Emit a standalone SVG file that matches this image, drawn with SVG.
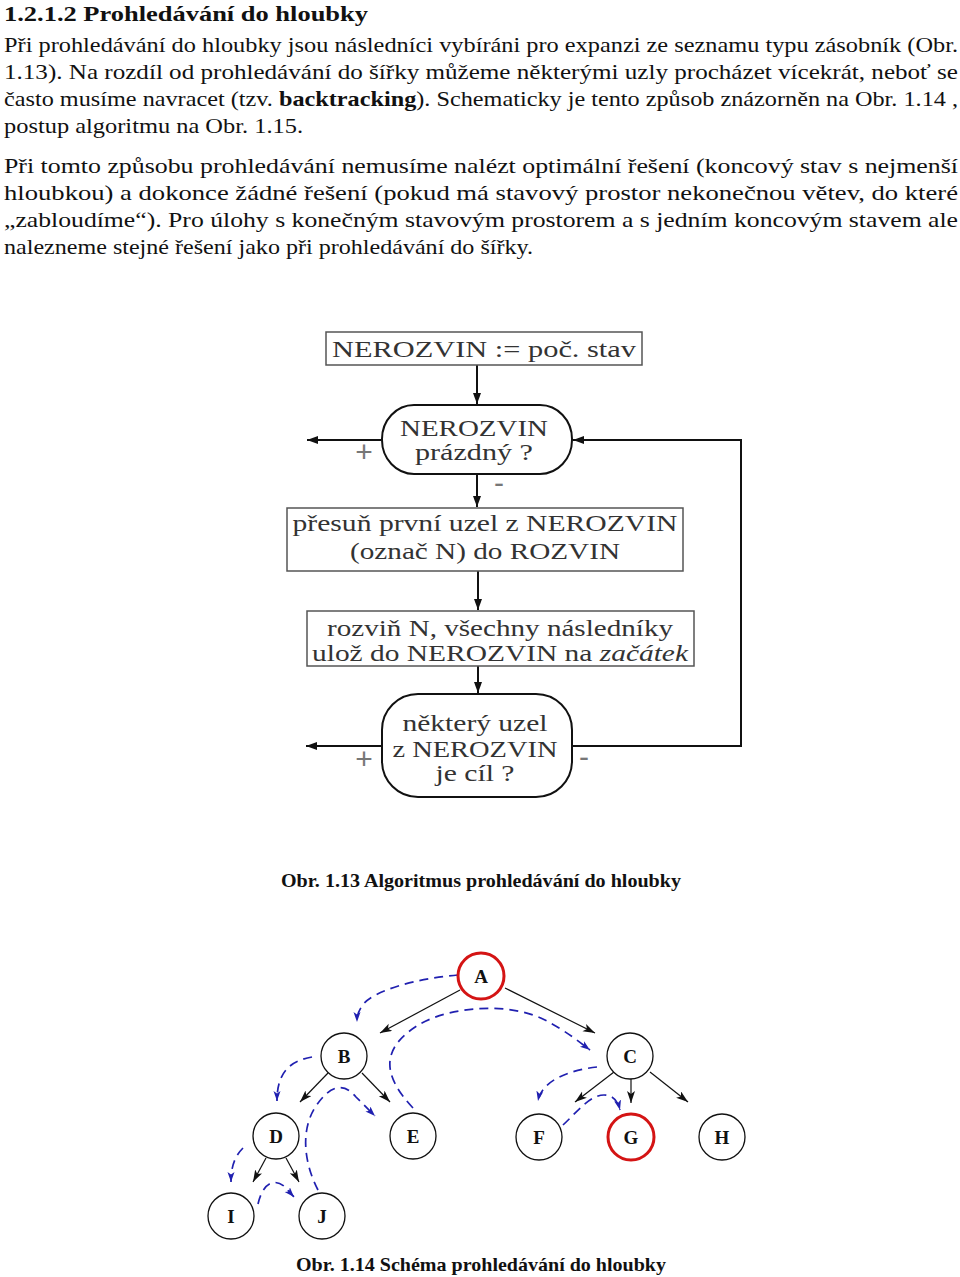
<svg xmlns="http://www.w3.org/2000/svg" width="960" height="1277" viewBox="0 0 960 1277">
<defs>
<style>
.body{font-family:"Times New Roman","Liberation Serif",Tinos,serif;font-size:22px;fill:#111}
.hd{font-family:"Times New Roman","Liberation Serif",Tinos,serif;font-size:22px;font-weight:bold;fill:#111}
.cap{font-family:"Times New Roman","Liberation Serif",Tinos,serif;font-size:19px;font-weight:bold;fill:#111}
.fc{font-family:"Times New Roman","Liberation Serif",Tinos,serif;font-size:23px;fill:#333;text-anchor:middle}
.box{fill:#fff;stroke:#555;stroke-width:1.5}
.stad{fill:#fff;stroke:#111;stroke-width:2}
.fl{fill:none;stroke:#111;stroke-width:2}
.sign{font-family:"Liberation Sans",Arial,sans-serif;font-size:30px;fill:#777;text-anchor:middle}
.node{fill:#fff;stroke:#111;stroke-width:1.3}
.goal{fill:#fff;stroke:#d41414;stroke-width:3}
.lab{font-family:"Times New Roman","Liberation Serif",Tinos,serif;font-size:19px;font-weight:bold;fill:#111;text-anchor:middle}
.te{fill:none;stroke:#111;stroke-width:1.2}
.bl{fill:none;stroke:#2020b0;stroke-width:1.7;stroke-dasharray:9 6}
</style>
<marker id="fa" markerUnits="userSpaceOnUse" markerWidth="12" markerHeight="10" refX="11" refY="4" orient="auto">
<path d="M0,0 L11,4 L0,8 z" fill="#111"/>
</marker>
<marker id="ta" markerUnits="userSpaceOnUse" markerWidth="14" markerHeight="10" refX="12" refY="4" orient="auto">
<path d="M0,0 L12,4 L0,8 L3,4 z" fill="#111"/>
</marker>
<marker id="ba" markerUnits="userSpaceOnUse" markerWidth="12" markerHeight="10" refX="10" refY="3.5" orient="auto">
<path d="M0,0 L10,3.5 L0,7 L2.5,3.5 z" fill="#2020b0"/>
</marker>
</defs>
<rect width="960" height="1277" fill="#fff"/>

<g id="text">
<text class="hd" x="4" y="21" textLength="364" lengthAdjust="spacingAndGlyphs">1.2.1.2  Prohledávání do hloubky</text>
<text class="body" x="4" y="52" textLength="954" lengthAdjust="spacingAndGlyphs">Při prohledávání do hloubky jsou následníci vybíráni pro expanzi ze seznamu typu zásobník (Obr.</text>
<text class="body" x="4" y="79" textLength="954" lengthAdjust="spacingAndGlyphs">1.13). Na rozdíl od prohledávání do šířky můžeme některými uzly procházet vícekrát, neboť se</text>
<text class="body" x="4" y="106" textLength="954" lengthAdjust="spacingAndGlyphs">často musíme navracet (tzv. <tspan font-weight="bold">backtracking</tspan>). Schematicky je tento způsob znázorněn na  Obr. 1.14 ,</text>
<text class="body" x="4" y="133" textLength="299" lengthAdjust="spacingAndGlyphs">postup algoritmu na Obr.  1.15.</text>
<text class="body" x="4" y="173" textLength="954" lengthAdjust="spacingAndGlyphs">Při tomto způsobu prohledávání nemusíme nalézt optimální řešení (koncový stav s nejmenší</text>
<text class="body" x="4" y="200" textLength="954" lengthAdjust="spacingAndGlyphs">hloubkou) a dokonce žádné řešení (pokud má stavový prostor nekonečnou větev, do které</text>
<text class="body" x="4" y="227" textLength="954" lengthAdjust="spacingAndGlyphs">„zabloudíme“).  Pro úlohy s konečným stavovým prostorem a s jedním koncovým stavem ale</text>
<text class="body" x="4" y="254" textLength="529" lengthAdjust="spacingAndGlyphs">nalezneme stejné řešení jako při prohledávání do šířky.</text>
<text class="cap" x="281" y="887" textLength="400" lengthAdjust="spacingAndGlyphs">Obr. 1.13  Algoritmus prohledávání do hloubky</text>
<text class="cap" x="296" y="1271" textLength="370" lengthAdjust="spacingAndGlyphs">Obr. 1.14  Schéma prohledávání do hloubky</text>
</g>

<g id="flow-connectors">
<line class="fl" x1="477" y1="365" x2="477" y2="404" marker-end="url(#fa)"/>
<line class="fl" x1="381" y1="440" x2="307" y2="440" marker-end="url(#fa)"/>
<line class="fl" x1="477" y1="474" x2="477" y2="507" marker-end="url(#fa)"/>
<line class="fl" x1="478" y1="571" x2="478" y2="610" marker-end="url(#fa)"/>
<line class="fl" x1="478" y1="666" x2="478" y2="693" marker-end="url(#fa)"/>
<line class="fl" x1="382" y1="746" x2="306" y2="746" marker-end="url(#fa)"/>
<polyline class="fl" points="572,746 741,746 741,440 573,440" marker-end="url(#fa)"/>
<text class="sign" x="364" y="462">+</text>
<text class="sign" x="499" y="493" font-size="22">-</text>
<text class="sign" x="364" y="769">+</text>
<text class="sign" x="584" y="767" font-size="22">-</text>
</g>

<g id="f-start">
<rect class="box" x="326" y="332" width="316" height="33"/>
<text class="fc" x="484" y="357" textLength="304" lengthAdjust="spacingAndGlyphs">NEROZVIN := poč. stav</text>
</g>
<g id="f-empty">
<rect class="stad" x="382" y="405" width="190" height="69" rx="32" ry="34"/>
<text class="fc" x="474" y="436" textLength="148" lengthAdjust="spacingAndGlyphs">NEROZVIN</text>
<text class="fc" x="474" y="460" textLength="118" lengthAdjust="spacingAndGlyphs">prázdný ?</text>
</g>
<g id="f-move">
<rect class="box" x="287" y="508" width="396" height="63"/>
<text class="fc" x="485" y="531" textLength="385" lengthAdjust="spacingAndGlyphs">přesuň první uzel z NEROZVIN</text>
<text class="fc" x="485" y="559" textLength="270" lengthAdjust="spacingAndGlyphs">(označ N) do ROZVIN</text>
</g>
<g id="f-expand">
<rect class="box" x="307" y="611" width="387" height="55"/>
<text class="fc" x="500" y="636" textLength="346" lengthAdjust="spacingAndGlyphs">rozviň N, všechny následníky</text>
<text class="fc" x="500" y="661" textLength="376" lengthAdjust="spacingAndGlyphs">ulož do NEROZVIN na <tspan font-style="italic">začátek</tspan></text>
</g>
<g id="f-goal">
<rect class="stad" x="382" y="694" width="190" height="103" rx="36" ry="36"/>
<text class="fc" x="475" y="731" textLength="145" lengthAdjust="spacingAndGlyphs">některý uzel</text>
<text class="fc" x="475" y="757" textLength="165" lengthAdjust="spacingAndGlyphs">z NEROZVIN</text>
<text class="fc" x="475" y="781" textLength="79" lengthAdjust="spacingAndGlyphs">je cíl ?</text>
</g>

<g id="tree-connectors">
<line class="te" x1="460" y1="990" x2="380" y2="1033" marker-end="url(#ta)"/>
<line class="te" x1="505" y1="988" x2="595" y2="1033" marker-end="url(#ta)"/>
<line class="te" x1="328" y1="1073" x2="300" y2="1102" marker-end="url(#ta)"/>
<line class="te" x1="362" y1="1073" x2="390" y2="1102" marker-end="url(#ta)"/>
<line class="te" x1="614" y1="1072" x2="575" y2="1102" marker-end="url(#ta)"/>
<line class="te" x1="631" y1="1079" x2="631" y2="1103" marker-end="url(#ta)"/>
<line class="te" x1="650" y1="1072" x2="688" y2="1102" marker-end="url(#ta)"/>
<line class="te" x1="266" y1="1158" x2="253" y2="1182" marker-end="url(#ta)"/>
<line class="te" x1="286" y1="1158" x2="299" y2="1182" marker-end="url(#ta)"/>
<path class="bl" d="M458,975 C420,978 372,990 362,1006 C358,1012 357,1016 357,1022" marker-end="url(#ba)"/>
<path class="bl" d="M312,1057 C290,1061 277,1072 277,1101" marker-end="url(#ba)"/>
<path class="bl" d="M243,1148 C235,1156 231,1166 231,1182" marker-end="url(#ba)"/>
<path class="bl" d="M258,1204 C262,1186 272,1177 284,1186 L294,1197" marker-end="url(#ba)"/>
<path class="bl" d="M318,1190 C304,1163 300,1130 316,1106 C328,1088 342,1080 356,1097 L375,1116" marker-end="url(#ba)"/>
<path class="bl" d="M413,1108 C382,1075 380,1048 420,1024 C452,1006 510,1002 545,1020 C566,1031 578,1041 590,1050" marker-end="url(#ba)"/>
<path class="bl" d="M597,1067 C570,1070 542,1080 538,1101" marker-end="url(#ba)"/>
<path class="bl" d="M563,1125 C577,1112 590,1095 604,1095 C614,1095 618,1102 620,1110" marker-end="url(#ba)"/>
</g>

<g id="n-A"><circle class="goal" cx="481" cy="976" r="23"/><text class="lab" x="481" y="983">A</text></g>
<g id="n-B"><circle class="node" cx="344" cy="1056" r="23"/><text class="lab" x="344" y="1063">B</text></g>
<g id="n-C"><circle class="node" cx="630" cy="1056" r="23"/><text class="lab" x="630" y="1063">C</text></g>
<g id="n-D"><circle class="node" cx="276" cy="1136" r="23"/><text class="lab" x="276" y="1143">D</text></g>
<g id="n-E"><circle class="node" cx="413" cy="1136" r="23"/><text class="lab" x="413" y="1143">E</text></g>
<g id="n-F"><circle class="node" cx="539" cy="1137" r="23"/><text class="lab" x="539" y="1144">F</text></g>
<g id="n-G"><circle class="goal" cx="631" cy="1137" r="23"/><text class="lab" x="631" y="1144">G</text></g>
<g id="n-H"><circle class="node" cx="722" cy="1137" r="23"/><text class="lab" x="722" y="1144">H</text></g>
<g id="n-I"><circle class="node" cx="231" cy="1216" r="23"/><text class="lab" x="231" y="1223">I</text></g>
<g id="n-J"><circle class="node" cx="322" cy="1216" r="23"/><text class="lab" x="322" y="1223">J</text></g>
</svg>
